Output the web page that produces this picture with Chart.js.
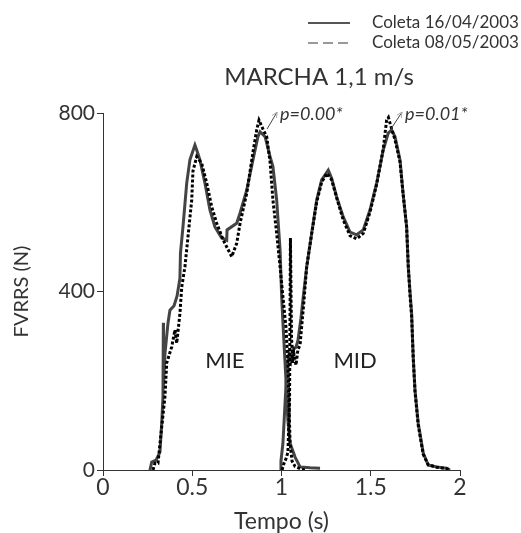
<!DOCTYPE html>
<html><head><meta charset="utf-8">
<script src="https://cdn.jsdelivr.net/npm/chart.js@4/dist/chart.umd.min.js"></script>
<style>html,body{margin:0;padding:0;background:#fff}#wrap{width:521px;height:533px}</style>
</head><body><div id="wrap"><canvas id="c" width="521" height="533"></canvas></div>
<script>
// ---- data ----
const seriesNames = ['Coleta 16/04/2003', 'Coleta 08/05/2003'];
const titleText = 'MARCHA 1,1 m/s';
const xTitle = 'Tempo (s)';
const yTitle = 'FVRRS (N)';
const xTicks = [0, 0.5, 1, 1.5, 2];
const xTickLabels = ['0', '0.5', '1', '1.5', '2'];
const yTicks = [0, 400, 800];
const yTickLabels = ['0', '400', '800'];
const regionNames = ['MIE', 'MID'];
const peakNotes = ['p=0.00*', 'p=0.01*'];

// Session 1 (16/04/2003) - left foot (MIE)
const s1LeftT = [0.263,0.273,0.297,0.319,0.329,0.336,0.338,0.339,0.347,0.364,0.375,0.398,0.415,0.431,0.434,0.448,0.469,0.487,0.515,0.525,0.543,0.571,0.599,0.627,0.665,0.693,0.695,0.749,0.768,0.805,0.840,0.868,0.880,0.908,0.936,0.952,0.973,0.992,1.001,1.008,1.020,1.025,1.036,1.048,1.076,1.104,1.160,1.216];
const s1LeftF = [0,18,22,40,105,164,330,190,260,329,358,368,390,430,486,545,643,695,728,717,695,643,583,545,520,515,538,553,576,627,695,747,758,747,702,680,605,493,388,330,240,202,110,60,29,7,5,4];
// Session 1 - right foot (MID)
const s1RightT = [0.992,0.997,1.008,1.020,1.031,1.042,1.053,1.064,1.081,1.092,1.109,1.120,1.141,1.169,1.197,1.225,1.262,1.281,1.309,1.346,1.384,1.421,1.458,1.496,1.533,1.570,1.598,1.617,1.636,1.664,1.681,1.701,1.710,1.720,1.729,1.738,1.748,1.766,1.794,1.822,1.869,1.925,1.944];
const s1RightF = [0,20,60,150,230,260,245,270,275,290,340,381,455,530,605,650,672,654,612,567,533,527,538,583,643,717,755,762,747,695,620,545,455,400,351,253,179,105,38,11,7,4,0];
// Session 2 (08/05/2003) - left foot (MIE)
const s2LeftT = [0.280,0.291,0.308,0.329,0.347,0.357,0.385,0.403,0.413,0.431,0.441,0.459,0.478,0.497,0.504,0.525,0.553,0.581,0.609,0.637,0.674,0.702,0.721,0.749,0.768,0.805,0.842,0.861,0.874,0.898,0.917,0.936,0.952,0.973,0.992,1.008,1.025,1.036,1.042,1.048,1.059,1.076,1.104,1.132];
const s2LeftF = [0,15,15,97,164,240,276,314,284,351,410,455,530,605,670,702,687,643,590,553,515,493,478,508,553,620,717,762,784,762,747,690,605,530,455,388,320,240,150,60,20,8,3,0];
// Session 2 - right foot (MID)
const s2RightT = [1.003,1.014,1.025,1.036,1.045,1.050,1.056,1.062,1.070,1.081,1.092,1.104,1.115,1.126,1.141,1.169,1.197,1.225,1.255,1.281,1.309,1.346,1.384,1.421,1.458,1.496,1.533,1.570,1.589,1.599,1.613,1.636,1.664,1.681,1.701,1.710,1.720,1.729,1.738,1.748,1.766,1.794,1.822,1.869,1.925,1.944];
const s2RightF = [0,15,25,40,150,520,300,240,260,235,270,280,330,380,455,530,600,645,665,650,610,560,525,518,530,578,640,720,784,790,770,740,690,620,545,460,390,345,250,175,100,35,12,6,3,0];

// ---- layout / style (not data) ----
const LAYOUT = {
  plotLeft: 103, plotRight: 460, plotTop: 113, plotBottom: 470,
  titleX: 319, titleBase: 85,
  legend: {x0: 308, x1: 350, textX: 372, y: [23, 43]},
  regionPos: [{t: 0.683, f: 244}, {t: 1.412, f: 244}],
  notePos: [
    {tx: 0.992, fx: 798, a0: {t: 0.919, f: 764}, a1: {t: 0.975, f: 802}},
    {tx: 1.692, fx: 798, a0: {t: 1.613, f: 764}, a1: {t: 1.675, f: 802}}
  ]
};
const FONT = 'Lato';
const SOLID = '#444';
const DOTTED = '#000';

const pts = (t, f) => t.map((v, i) => ({x: v, y: f[i]}));
const dottedStyle = {borderColor: DOTTED, borderWidth: 3, borderDash: [3, 2], pointRadius: 0, tension: 0, fill: false};
const solidStyle = {borderColor: SOLID, borderWidth: 3, pointRadius: 0, tension: 0, fill: false};

const overlay = {
  id: 'overlay',
  afterDraw(chart) {
    const {ctx} = chart;
    const xs = chart.scales.x, ys = chart.scales.y;
    ctx.save();
    // title
    ctx.fillStyle = '#333';
    ctx.font = '24px ' + FONT;
    ctx.textAlign = 'center';
    ctx.textBaseline = 'alphabetic';
    ctx.fillText(titleText, LAYOUT.titleX, LAYOUT.titleBase);
    ctx.textBaseline = 'middle';
    // legend
    const L = LAYOUT.legend;
    ctx.lineWidth = 2;
    ctx.strokeStyle = '#555';
    ctx.setLineDash([]);
    ctx.beginPath(); ctx.moveTo(L.x0, L.y[0]); ctx.lineTo(L.x1, L.y[0]); ctx.stroke();
    ctx.strokeStyle = '#999';
    ctx.setLineDash([10, 5]);
    ctx.beginPath(); ctx.moveTo(L.x0, L.y[1]); ctx.lineTo(L.x1, L.y[1]); ctx.stroke();
    ctx.setLineDash([]);
    ctx.font = '17px ' + FONT;
    ctx.textAlign = 'left';
    ctx.fillStyle = '#333';
    seriesNames.forEach((n, i) => ctx.fillText(n, L.textX, L.y[i]));
    // region labels
    ctx.font = '22px ' + FONT;
    ctx.textAlign = 'center';
    ctx.fillStyle = '#222';
    regionNames.forEach((n, i) => {
      const p = LAYOUT.regionPos[i];
      ctx.fillText(n, xs.getPixelForValue(p.t), ys.getPixelForValue(p.f));
    });
    // p-value notes with arrows
    ctx.font = 'italic 18px ' + FONT;
    ctx.textAlign = 'left';
    ctx.fillStyle = '#333';
    peakNotes.forEach((n, i) => {
      const p = LAYOUT.notePos[i];
      ctx.fillText(n, xs.getPixelForValue(p.tx), ys.getPixelForValue(p.fx));
      const x0 = xs.getPixelForValue(p.a0.t), y0 = ys.getPixelForValue(p.a0.f);
      const x1 = xs.getPixelForValue(p.a1.t), y1 = ys.getPixelForValue(p.a1.f);
      ctx.strokeStyle = '#444'; ctx.lineWidth = 1;
      ctx.beginPath(); ctx.moveTo(x0, y0); ctx.lineTo(x1, y1); ctx.stroke();
      const ang = Math.atan2(y1 - y0, x1 - x0);
      ctx.strokeStyle = '#aaa';
      ctx.beginPath();
      ctx.moveTo(x1 - 6 * Math.cos(ang - 0.45), y1 - 6 * Math.sin(ang - 0.45));
      ctx.lineTo(x1, y1);
      ctx.lineTo(x1 - 6 * Math.cos(ang + 0.45), y1 - 6 * Math.sin(ang + 0.45));
      ctx.stroke();
    });
    ctx.restore();
  }
};

new Chart(document.getElementById('c'), {
  type: 'line',
  data: {
    datasets: [
      Object.assign({label: seriesNames[1], data: pts(s2LeftT, s2LeftF)}, dottedStyle),
      Object.assign({label: seriesNames[1], data: pts(s2RightT, s2RightF)}, dottedStyle),
      Object.assign({label: seriesNames[0], data: pts(s1LeftT, s1LeftF)}, solidStyle),
      Object.assign({label: seriesNames[0], data: pts(s1RightT, s1RightF)}, solidStyle)
    ]
  },
  options: {
    responsive: false,
    animation: false,
    devicePixelRatio: 1,
    layout: {padding: {left: 0, top: LAYOUT.plotTop, right: 521 - LAYOUT.plotRight, bottom: 0}},
    plugins: {legend: {display: false}, title: {display: false}, tooltip: {enabled: false}},
    scales: {
      x: {
        type: 'linear', min: 0, max: 2,
        afterBuildTicks: s => { s.ticks = xTicks.map(v => ({value: v})); },
        afterFit: s => { s.height = 533 - LAYOUT.plotBottom; },
        ticks: {
          autoSkip: false, maxRotation: 0, padding: -2, color: '#333',
          font: {family: FONT, size: 23},
          callback: (v) => xTickLabels[xTicks.indexOf(v)]
        },
        grid: {drawOnChartArea: false, drawTicks: true, tickLength: 6, color: '#333', tickWidth: 1},
        border: {color: '#333', width: 1},
        title: {display: true, text: xTitle, color: '#333', font: {family: FONT, size: 23, lineHeight: 1}, padding: {top: 0, bottom: 0}}
      },
      y: {
        type: 'linear', min: 0, max: 800,
        afterBuildTicks: s => { s.ticks = yTicks.map(v => ({value: v})); },
        afterFit: s => { s.width = LAYOUT.plotLeft; },
        ticks: {
          autoSkip: false, padding: 2, color: '#333',
          font: {family: FONT, size: 21},
          callback: (v) => yTickLabels[yTicks.indexOf(v)]
        },
        grid: {drawOnChartArea: false, drawTicks: true, tickLength: 6, color: '#333', tickWidth: 1},
        border: {color: '#333', width: 1},
        title: {display: true, text: yTitle, color: '#333', font: {family: FONT, size: 20, lineHeight: 1}, padding: {top: 12, bottom: 0}}
      }
    }
  },
  plugins: [overlay]
});
</script>
</body></html>
